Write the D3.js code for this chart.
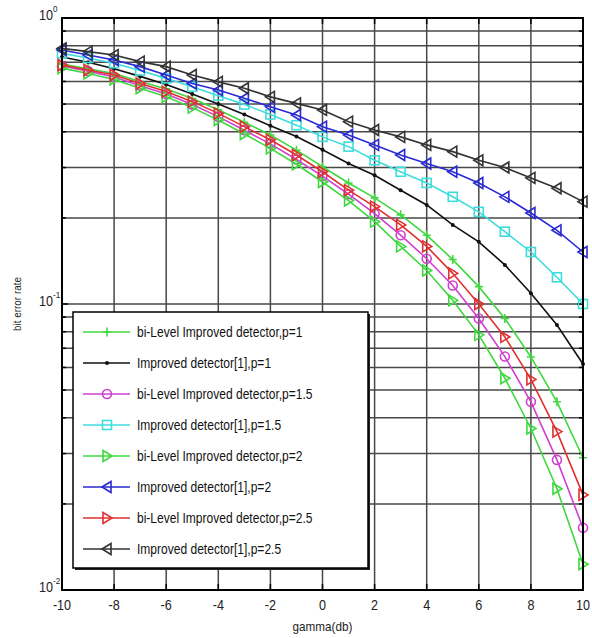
<!DOCTYPE html>
<html>
<head>
<meta charset="utf-8">
<script src="https://cdn.jsdelivr.net/npm/d3@7"></script>
<style>
  body { margin: 0; background: #fff; }
  text { font-family: "Liberation Sans", Arial, sans-serif; }
</style>
</head>
<body>
<div id="chart"></div>
<script>
// gamma (db) values
var gammaDb = d3.range(-10, 11, 1);

// bit error rate per series
var biLevelP1 = [0.69,0.665,0.64,0.6,0.565,0.523,0.478,0.432,0.39,0.345,0.302,0.265,0.235,0.205,0.174,0.143,0.115,0.089,0.0653,0.0455,0.029];
var improvedP1 = [0.73,0.7,0.665,0.625,0.585,0.542,0.5,0.46,0.42,0.385,0.346,0.31,0.282,0.25,0.222,0.189,0.165,0.137,0.109,0.0844,0.0617];
var biLevelP15 = [0.68,0.652,0.622,0.58,0.542,0.498,0.452,0.405,0.363,0.32,0.28,0.242,0.207,0.174,0.144,0.116,0.089,0.0655,0.0455,0.0285,0.0165];
var improvedP15 = [0.752,0.725,0.695,0.655,0.615,0.575,0.535,0.498,0.46,0.422,0.384,0.355,0.318,0.29,0.265,0.237,0.21,0.179,0.152,0.124,0.1];
var biLevelP2 = [0.668,0.64,0.61,0.568,0.53,0.486,0.44,0.393,0.35,0.308,0.267,0.23,0.194,0.159,0.131,0.103,0.078,0.055,0.0367,0.0226,0.0123];
var improvedP2 = [0.773,0.742,0.713,0.676,0.632,0.59,0.56,0.524,0.489,0.458,0.417,0.39,0.36,0.332,0.31,0.29,0.265,0.237,0.208,0.181,0.152];
var biLevelP25 = [0.685,0.658,0.632,0.59,0.553,0.51,0.464,0.417,0.375,0.332,0.29,0.25,0.219,0.189,0.159,0.128,0.1,0.0767,0.0545,0.0358,0.0215];
var improvedP25 = [0.783,0.763,0.742,0.704,0.676,0.632,0.598,0.568,0.53,0.503,0.477,0.434,0.406,0.384,0.36,0.341,0.318,0.3,0.276,0.254,0.228];

var seriesNames = [
  "bi-Level Improved detector,p=1",
  "Improved detector[1],p=1",
  "bi-Level Improved detector,p=1.5",
  "Improved detector[1],p=1.5",
  "bi-Level Improved detector,p=2",
  "Improved detector[1],p=2",
  "bi-Level Improved detector,p=2.5",
  "Improved detector[1],p=2.5"
];
var seriesValues = [biLevelP1, improvedP1, biLevelP15, improvedP15, biLevelP2, improvedP2, biLevelP25, improvedP25];
var seriesColors = ["#3fd83f", "#111111", "#d040d0", "#3fdcdc", "#3fd83f", "#2a2ad0", "#e03030", "#333333"];
var seriesMarkers = ["plus", "dot", "circle", "square", "triR", "triL", "triR", "triL"];

var xTicks = [-10, -8, -6, -4, -2, 0, 2, 4, 6, 8, 10];

var svgWidth = 592, svgHeight = 638;
var plotLeft = 62, plotRight = 583, plotTop = 18, plotBottom = 590;

var svg = d3.select("#chart").append("svg")
  .attr("width", svgWidth)
  .attr("height", svgHeight);

var xScale = d3.scaleLinear().domain([-10, 10]).range([plotLeft, plotRight]);
var yScale = d3.scaleLog().domain([0.01, 1]).range([plotBottom, plotTop]);

// minor log ticks (2..9 in each decade)
var yMinor = [];
[0.01, 0.1].forEach(function(d) {
  for (var k = 2; k <= 9; k++) yMinor.push(d * k);
});
var yMajor = [0.01, 0.1, 1];

// grid
var grid = svg.append("g").attr("stroke", "#484848").attr("stroke-width", 1.5);
xTicks.slice(1, -1).forEach(function(t) {
  grid.append("line")
    .attr("x1", xScale(t)).attr("x2", xScale(t))
    .attr("y1", plotTop).attr("y2", plotBottom);
});
yMinor.concat([0.1]).forEach(function(t) {
  grid.append("line")
    .attr("x1", plotLeft).attr("x2", plotRight)
    .attr("y1", yScale(t)).attr("y2", yScale(t));
});

// axes (ticks inward, on all sides like matlab)
var axisG = svg.append("g").attr("stroke", "#000");
xTicks.forEach(function(t) {
  axisG.append("line").attr("x1", xScale(t)).attr("x2", xScale(t))
    .attr("y1", plotBottom).attr("y2", plotBottom - 6).attr("stroke-width", 1.5);
  axisG.append("line").attr("x1", xScale(t)).attr("x2", xScale(t))
    .attr("y1", plotTop).attr("y2", plotTop + 6).attr("stroke-width", 1.5);
});
yMinor.concat(yMajor).forEach(function(t) {
  var len = yMajor.indexOf(t) >= 0 ? 6 : 4;
  axisG.append("line").attr("x1", plotLeft).attr("x2", plotLeft + len)
    .attr("y1", yScale(t)).attr("y2", yScale(t)).attr("stroke-width", 1.5);
  axisG.append("line").attr("x1", plotRight).attr("x2", plotRight - len)
    .attr("y1", yScale(t)).attr("y2", yScale(t)).attr("stroke-width", 1.5);
});

// tick labels
svg.append("g").selectAll("text")
  .data(xTicks)
  .enter()
  .append("text")
  .attr("transform", d => "translate(" + xScale(d) + "," + (plotBottom + 20) + ") scale(0.9,1)")
  .attr("text-anchor", "middle")
  .attr("font-size", "14px")
  .attr("fill", "#222")
  .text(d => d);

var yLab = svg.append("g").selectAll("text")
  .data(yMajor)
  .enter()
  .append("text")
  .attr("transform", d => "translate(" + (plotLeft - 23) + "," + (yScale(d) + 2) + ") scale(0.9,1)")
  .attr("font-size", "14px")
  .attr("fill", "#222");
yLab.append("tspan").text("10");
yLab.append("tspan")
  .attr("dy", -8)
  .attr("font-size", "9px")
  .text(d => Math.round(Math.log10(d)));

// axis titles
svg.append("text")
  .attr("transform", "translate(" + ((plotLeft + plotRight) / 2) + ",631) scale(0.9,1)")
  .attr("text-anchor", "middle")
  .attr("font-size", "13px")
  .attr("fill", "#222")
  .text("gamma(db)");

svg.append("text")
  .attr("transform", "translate(21," + ((plotTop + plotBottom) / 2) + ") rotate(-90) scale(0.9,1)")
  .attr("text-anchor", "middle")
  .attr("font-size", "11px")
  .attr("fill", "#222")
  .text("bit error rate");

// marker drawing
function drawMarker(g, type, color, x, y) {
  if (type === "plus") {
    g.append("path").attr("d", "M" + (x - 4) + "," + y + "H" + (x + 4) + "M" + x + "," + (y - 4.5) + "V" + (y + 4.5))
      .attr("stroke", color).attr("stroke-width", 1.6).attr("fill", "none");
  } else if (type === "dot") {
    g.append("circle").attr("cx", x).attr("cy", y).attr("r", 2).attr("fill", color);
  } else if (type === "circle") {
    g.append("circle").attr("cx", x).attr("cy", y).attr("r", 4.5)
      .attr("stroke", color).attr("stroke-width", 1.6).attr("fill", "none");
  } else if (type === "square") {
    g.append("rect").attr("x", x - 4.5).attr("y", y - 4.5).attr("width", 9).attr("height", 9)
      .attr("stroke", color).attr("stroke-width", 1.6).attr("fill", "none");
  } else if (type === "triR") {
    g.append("path").attr("d", "M" + (x + 5) + "," + y + "L" + (x - 4) + "," + (y - 5.5) + "L" + (x - 4) + "," + (y + 5.5) + "Z")
      .attr("stroke", color).attr("stroke-width", 1.6).attr("fill", "none");
  } else if (type === "triL") {
    g.append("path").attr("d", "M" + (x - 5) + "," + y + "L" + (x + 4) + "," + (y - 5.5) + "L" + (x + 4) + "," + (y + 5.5) + "Z")
      .attr("stroke", color).attr("stroke-width", 1.6).attr("fill", "none");
  }
}

var line = d3.line()
  .x((d, i) => xScale(gammaDb[i]))
  .y(d => yScale(d));

var plotG = svg.append("g");
d3.range(seriesValues.length).forEach(function(s) {
  var g = plotG.append("g");
  g.append("path")
    .attr("d", line(seriesValues[s]))
    .attr("fill", "none")
    .attr("stroke", seriesColors[s])
    .attr("stroke-width", 1.6);
  seriesValues[s].forEach(function(v, i) {
    drawMarker(g, seriesMarkers[s], seriesColors[s], xScale(gammaDb[i]), yScale(v));
  });
});

// frame
svg.append("rect")
  .attr("x", plotLeft).attr("y", plotTop)
  .attr("width", plotRight - plotLeft).attr("height", plotBottom - plotTop)
  .attr("fill", "none").attr("stroke", "#000").attr("stroke-width", 2);

// legend
var legend = svg.append("g").attr("transform", "translate(73,312)");
legend.append("rect")
  .attr("x", 2).attr("y", 2).attr("width", 295).attr("height", 256)
  .attr("fill", "#222");
legend.append("rect")
  .attr("width", 295).attr("height", 256)
  .attr("fill", "#fff").attr("stroke", "#000").attr("stroke-width", 1.5);
seriesNames.forEach(function(name, s) {
  var yy = 20 + s * 31;
  legend.append("line")
    .attr("x1", 10).attr("x2", 57).attr("y1", yy).attr("y2", yy)
    .attr("stroke", seriesColors[s]).attr("stroke-width", 1.6);
  drawMarker(legend, seriesMarkers[s], seriesColors[s], 34, yy);
  legend.append("text")
    .attr("transform", "translate(64," + (yy + 5) + ") scale(0.86,1)")
    .attr("font-size", "14px")
    .attr("fill", "#111")
    .text(name);
});
</script>
</body>
</html>
